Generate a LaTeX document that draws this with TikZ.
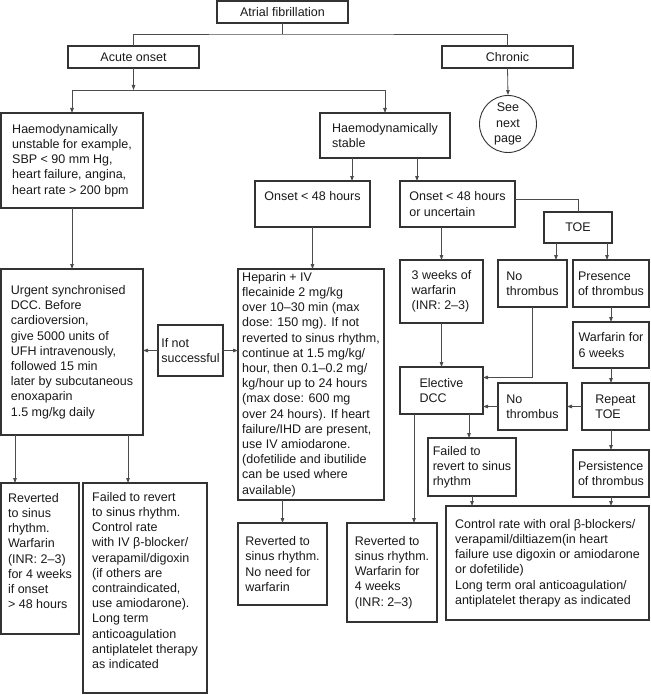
\documentclass[tikz,border=0pt]{standalone}
\usepackage{fontspec}
\setmainfont{Liberation Sans}
\usetikzlibrary{arrows.meta}

\begin{document}
\begin{tikzpicture}[x=1pt, y=-1pt,
        cbox/.style={draw=black!80, line width=1.2pt, anchor=north west, align=left,
            inner xsep=3pt, inner ysep=2pt, outer sep=0pt, text=black!90,
            font=\fontsize{12.5}{15.2}\selectfont},
        conn/.style={draw=black!70, line width=0.8pt},
        arr/.style={conn, -{Triangle[length=5pt, width=3.6pt]}}]
    \useasboundingbox (0,0) rectangle (650,695);

    % Top levels
    \node[cbox, minimum width=131, minimum height=22] (af) at (217,1) {Atrial fibrillation};
    \node[cbox, minimum width=131, minimum height=22] (acute) at (68,46) {Acute onset};
    \node[cbox, minimum width=131, minimum height=22] (chronic) at (442,46) {Chronic};
    \node[draw=black!80, line width=0.9pt, circle, minimum size=57, inner sep=0pt, align=center,
        text=black!90, font=\fontsize{12.5}{15.2}\selectfont] (seenext) at (508,124) {See\\next\\page};

    % Acute onset branch
    \node[cbox, minimum width=142, minimum height=95] (unstable) at (1,113)
        {Haemodynamically\\unstable for example,\\SBP < 90 mm Hg,\\heart failure, angina,\\heart rate > 200 bpm};
    \node[cbox, minimum width=130, minimum height=45] (stable) at (320,113) {Haemodynamically\\stable};
    \node[cbox, minimum width=115, minimum height=46] (onsetA) at (255,181) {Onset < 48 hours\\~};
    \node[cbox, minimum width=115, minimum height=46] (onsetB) at (400,181) {Onset < 48 hours\\or uncertain};

    % Unstable column
    \node[cbox, minimum width=142, minimum height=166] (urgent) at (1,269)
        {Urgent synchronised\\DCC. Before\\cardioversion,\\give 5000 units of\\UFH intravenously,\\followed 15 min\\later by subcutaneous\\enoxaparin\\1.5 mg/kg daily};
    \node[cbox, minimum width=65, minimum height=51] (ifnot) at (158,325) {If not\\successful};
    \node[cbox, minimum width=78, minimum height=151] (revA) at (1,483)
        {Reverted\\to sinus\\rhythm.\\Warfarin\\(INR: 2–3)\\for 4 weeks\\if onset\\> 48 hours\\~};
    \node[cbox, minimum width=124, minimum height=210] (failA) at (83,483)
        {Failed to revert\\to sinus rhythm.\\Control rate\\with IV β-blocker/\\verapamil/digoxin\\(if others are\\contraindicated,\\use amiodarone).\\Long term\\anticoagulation\\antiplatelet therapy\\as indicated\\~};

    % Onset < 48 hours column
    \node[cbox, minimum width=146, minimum height=231] (heparin) at (238,269)
        {Heparin + IV\\flecainide 2 mg/kg\\over 10–30 min (max\\dose: 150 mg). If not\\reverted to sinus rhythm,\\continue at 1.5 mg/kg/\\hour, then 0.1–0.2 mg/\\kg/hour up to 24 hours\\(max dose: 600 mg\\over 24 hours). If heart\\failure/IHD are present,\\use IV amiodarone.\\(dofetilide and ibutilide\\can be used where\\available)};
    \node[cbox, minimum width=89, minimum height=82] (revB) at (238,523)
        {Reverted to\\sinus rhythm.\\No need for\\warfarin};

    % Uncertain onset column
    \node[cbox, minimum width=68, minimum height=31] (toe) at (544,212) {TOE};
    \node[cbox, minimum width=83, minimum height=63] (weeks3) at (400,260) {3 weeks of\\warfarin\\(INR: 2–3)};
    \node[cbox, minimum width=69, minimum height=47] (nothA) at (498,260) {No\\thrombus};
    \node[cbox, minimum width=76, minimum height=47] (presence) at (573,260) {Presence\\of thrombus};
    \node[cbox, minimum width=76, minimum height=46] (warf6) at (573,322) {Warfarin for\\6 weeks};
    \node[cbox, minimum width=83, minimum height=47] (elective) at (400,367) {Elective\\DCC};
    \node[cbox, minimum width=69, minimum height=47] (nothB) at (498,383) {No\\thrombus};
    \node[cbox, minimum width=67, minimum height=47] (repeat) at (582,383) {Repeat\\TOE};
    \node[cbox, minimum width=88, minimum height=58] (failedB) at (428,438) {Failed to\\revert to sinus\\rhythm};
    \node[cbox, minimum width=76, minimum height=47] (persist) at (573,450) {Persistence\\of thrombus};
    \node[cbox, minimum width=90, minimum height=99] (revC) at (347,523)
        {Reverted to\\sinus rhythm.\\Warfarin for\\4 weeks\\(INR: 2–3)};
    \node[cbox, minimum width=203, minimum height=114] (control) at (446,506)
        {Control rate with oral β-blockers/\\verapamil/diltiazem(in heart\\failure use digoxin or amiodarone\\or dofetilide)\\Long term oral anticoagulation/\\antiplatelet therapy as indicated};

    % Top connectors
    \coordinate (t1) at ([yshift=-11pt]af.south);
    \draw[conn] (af.south) -- (t1);
    \draw[conn] (acute.north) |- (t1) -| (chronic.north);
    \draw[arr] (chronic.south) -- (seenext.north);
    \coordinate (t2) at ([yshift=-22pt]acute.south);
    \draw[arr] (acute.south) -- (t2);
    \draw[arr] (t2) -| (unstable.north);
    \draw[arr] (t2) -| (stable.north);

    % Unstable connectors
    \draw[arr] (unstable.south) -- (urgent.north);
    \draw[arr] (ifnot.west) -- (ifnot.west -| urgent.east);
    \draw[arr] (ifnot.east) -- (ifnot.east -| heparin.west);
    \coordinate (u1) at ([xshift=14pt]urgent.south west);
    \coordinate (u2) at ([xshift=-15pt]urgent.south east);
    \draw[arr] (u1) -- (u1 |- revA.north);
    \draw[arr] (u2) -- (u2 |- failA.north);

    % Stable connectors
    \coordinate (s1) at ([xshift=32pt]stable.south west);
    \coordinate (s2) at ([xshift=-33pt]stable.south east);
    \draw[arr] (s1) -- (s1 |- onsetA.north);
    \draw[arr] (s2) -- (s2 |- onsetB.north);
    \draw[arr] (onsetA.south) -- (onsetA.south |- heparin.north);
    \draw[arr] (revB.north |- heparin.south) -- (revB.north);

    % TOE connectors
    \draw[conn] ([yshift=5pt]onsetB.east) -| (toe.north);
    \draw[arr] (onsetB.south -| weeks3.north) -- (weeks3.north);
    \coordinate (o1) at ([xshift=12pt]toe.south west);
    \coordinate (o2) at ([xshift=-5pt]toe.south east);
    \draw[arr] (o1) -- (o1 |- nothA.north);
    \draw[arr] (o2) -- (o2 |- presence.north);
    \draw[arr] (weeks3.south) -- (elective.north);
    \draw[arr] (nothA.south) |- ([yshift=13pt]elective.east);
    \draw[arr] (presence.south) -- (warf6.north);
    \draw[arr] (warf6.south) -- (warf6.south |- repeat.north);
    \draw[arr] (repeat.west) -- (nothB.east);
    \draw[arr] (nothB.west) -- (nothB.west -| elective.east);
    \draw[arr] (persist.north |- repeat.south) -- (persist.north);
    \draw[arr] (persist.south) -- (persist.south |- control.north);

    % Elective DCC outcomes
    \coordinate (e1) at ([xshift=14pt]elective.south west);
    \coordinate (e2) at ([xshift=-14pt]elective.south east);
    \draw[arr] (e1) -- (e1 |- revC.north);
    \draw[arr] (e2) -- (e2 |- failedB.north);
    \draw[arr] (failedB.south) -- (failedB.south |- control.north);
\end{tikzpicture}
\end{document}
